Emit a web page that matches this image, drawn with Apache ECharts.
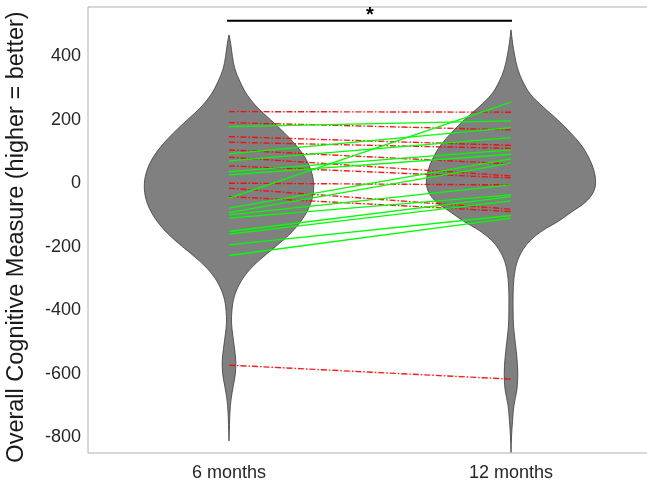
<!DOCTYPE html>
<html>
<head>
<meta charset="utf-8">
<script src="https://cdn.jsdelivr.net/npm/echarts@6/dist/echarts.min.js"></script>
<style>
  html, body { margin: 0; padding: 0; background: #ffffff; }
  #chart { width: 647px; height: 481px; }
</style>
</head>
<body>
<div id="chart"></div>
<script>
// Time points
const categories = ['6 months', '12 months'];

// Participants whose score went down (6 months -> 12 months)
const declined6  = [225.5, 190.9, 146.8, 129.1, 104.9, 81.9, 54.5, 0.0, -15.7, -42.2, -573.2];
const declined12 = [223.6, 167.9, 119.1, 109.6, 60.8, 23.0, 16.7, -5.4, -81.9, -89.4, -617.3];

// Participants whose score went up (6 months -> 12 months)
const improved6  = [178.3, 92.3, 70.2, 36.5, 26.1, -78.7, -92.6, -99.8, -110.2, -152.4, -160.6, -194.3, -228.0, -47.2];
const improved12 = [196.2, 175.1, 143.6, 104.9, 91.3, 76.5, 63.0, -5.4, -36.9, -42.2, -55.7, -102.0, -110.2, 255.1];

// Density profile of each group: score level and relative density (1 = widest)
const density6Levels  = [467, 440, 400, 360, 320, 280, 240, 200, 160, 120, 80, 40, 0, -40, -80, -120, -160, -200, -240, -280, -320, -360, -400, -440, -480, -520, -560, -600, -640, -680, -720, -760, -812];
const density6Values  = [0, 0.02, 0.04, 0.07, 0.13, 0.21, 0.33, 0.49, 0.65, 0.79, 0.9, 0.97, 1, 0.99, 0.94, 0.85, 0.72, 0.55, 0.37, 0.22, 0.12, 0.06, 0.035, 0.03, 0.045, 0.065, 0.08, 0.075, 0.05, 0.025, 0.012, 0.006, 0];
const density12Levels = [483, 440, 400, 360, 320, 280, 240, 200, 160, 120, 80, 40, 0, -30, -60, -90, -120, -150, -180, -210, -250, -300, -350, -400, -450, -500, -550, -600, -650, -700, -750, -800, -848];
const density12Values = [0, 0.02, 0.045, 0.08, 0.14, 0.23, 0.38, 0.55, 0.7, 0.83, 0.92, 0.98, 1, 0.97, 0.88, 0.72, 0.56, 0.37, 0.23, 0.14, 0.07, 0.035, 0.025, 0.025, 0.03, 0.05, 0.07, 0.08, 0.07, 0.035, 0.018, 0.006, 0];

// Y axis labels
const yTickValues = [-800, -600, -400, -200, 0, 200, 400];
const yTitle = 'Overall Cognitive Measure (higher = better)';

// Significance bracket between the two time points
const significanceText = '*';
const bracketLevel = 512;
const starLevel = 527;

const FONT = 'Liberation Sans, Arial, Helvetica, sans-serif';
const VIOLIN_HALF_WIDTH = 0.3;   // widest half-width, in category units

const profiles = [
  density6Levels.map((v, i) => [v, density6Values[i]]),
  density12Levels.map((v, i) => [v, density12Values[i]])
];

const series = [];

// Violins
series.push({
  type: 'custom',
  coordinateSystem: 'cartesian2d',
  silent: true,
  z: 1,
  data: [[0, 0], [1, 0]],
  encode: { x: 0, y: 1 },
  renderItem: function (params, api) {
    const idx = params.dataIndex;
    const prof = profiles[idx];
    const band = api.coord([1, 0])[0] - api.coord([0, 0])[0];
    const right = [], left = [];
    for (const [v, d] of prof) {
      const c = api.coord([idx, v]);
      right.push([c[0] + d * VIOLIN_HALF_WIDTH * band, c[1]]);
      left.push([c[0] - d * VIOLIN_HALF_WIDTH * band, c[1]]);
    }
    return {
      type: 'polygon',
      shape: { points: right.concat(left.reverse()), smooth: 0.35 },
      style: { fill: '#808080', stroke: '#3c3c3c', lineWidth: 0.8 }
    };
  }
});

// Paired lines: declines (red dash-dot)
declined6.forEach((v, i) => {
  series.push({
    type: 'line', z: 3, silent: true, symbol: 'none',
    data: [v, declined12[i]],
    lineStyle: { color: 'rgba(255,0,0,0.9)', width: 1.4, type: [6, 2, 1.5, 2] }
  });
});

// Paired lines: improvements (green solid)
improved6.forEach((v, i) => {
  series.push({
    type: 'line', z: 4, silent: true, symbol: 'none',
    data: [v, improved12[i]],
    lineStyle: { color: '#00ff00', width: 1.4 }
  });
});

// Significance bracket and marker
series.push({
  type: 'custom',
  coordinateSystem: 'cartesian2d',
  silent: true,
  z: 5,
  data: [[0, bracketLevel]],
  encode: { x: 0, y: 1 },
  renderItem: function (params, api) {
    const a = api.coord([0, bracketLevel]);
    const b = api.coord([1, bracketLevel]);
    const s = api.coord([0, starLevel]);
    return {
      type: 'group',
      children: [
        { type: 'line', shape: { x1: a[0] - 2, y1: a[1], x2: b[0] + 1, y2: b[1] },
          style: { stroke: '#000000', lineWidth: 2 } },
        { type: 'text', x: (a[0] + b[0]) / 2, y: s[1],
          style: { text: significanceText, fill: '#000000', font: 'bold 20px ' + FONT,
                   align: 'center', verticalAlign: 'middle' } }
      ]
    };
  }
});

const chart = echarts.init(document.getElementById('chart'), null, { renderer: 'canvas' });
chart.setOption({
  animation: false,
  backgroundColor: '#ffffff',
  grid: {
    left: 88, top: 7, width: 564, height: 446,
    outerBoundsMode: 'none',
    containLabel: false,
    show: true, borderColor: '#b0b0b0', borderWidth: 1, backgroundColor: 'transparent'
  },
  xAxis: {
    type: 'category',
    data: categories,
    boundaryGap: true,
    axisLine: { show: false },
    axisTick: { show: false },
    splitLine: { show: false },
    axisLabel: { fontSize: 18, color: '#262626', fontFamily: FONT, margin: 11 }
  },
  yAxis: {
    type: 'value',
    min: -850,
    max: 555,
    axisLine: { show: false },
    axisTick: { show: false },
    splitLine: { show: false },
    axisLabel: { customValues: yTickValues, fontSize: 18, color: '#262626', fontFamily: FONT, margin: 7 }
  },
  graphic: [{
    type: 'text',
    x: 17,
    y: 237,
    rotation: Math.PI / 2,
    silent: true,
    style: {
      text: yTitle,
      fill: '#1a1a1a',
      font: '23.5px ' + FONT,
      align: 'center',
      verticalAlign: 'middle'
    }
  }],
  series: series
});
</script>
</body>
</html>
